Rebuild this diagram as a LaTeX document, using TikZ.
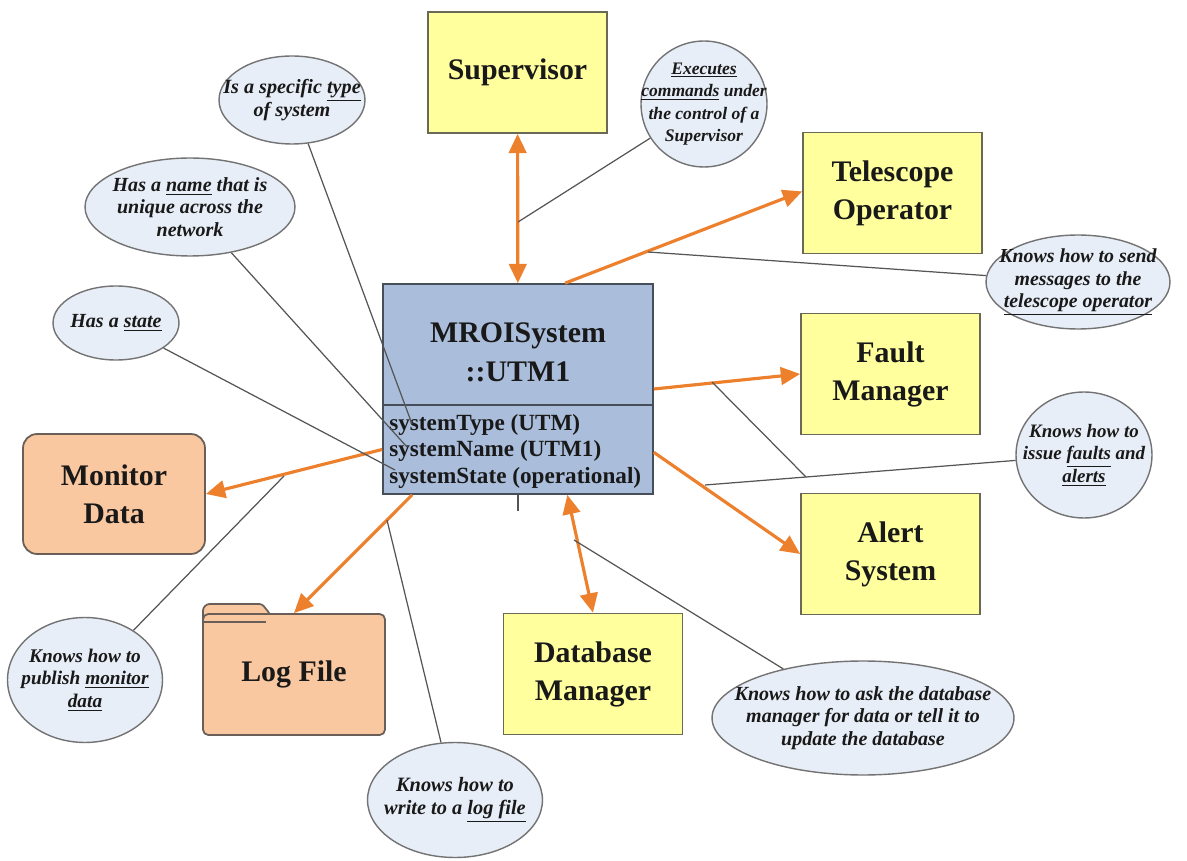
\documentclass[tikz,border=0pt]{standalone}
\usepackage{fontspec}
\setmainfont{Liberation Serif}
\usetikzlibrary{arrows.meta,shapes.geometric}
\definecolor{boxyellow}{RGB}{255,255,158}
\definecolor{yborder}{RGB}{105,105,85}
\definecolor{sysfill}{RGB}{170,190,220}
\definecolor{sysborder}{RGB}{70,78,90}
\definecolor{peach}{RGB}{250,200,160}
\definecolor{pborder}{RGB}{105,95,88}
\definecolor{ellfill}{RGB}{232,238,247}
\definecolor{ellborder}{RGB}{115,115,115}
\definecolor{orangec}{RGB}{237,128,45}
\definecolor{linegray}{RGB}{85,85,85}
\definecolor{txt}{RGB}{25,25,25}
\newcommand\mycallout[6]{%
  \node[callout, minimum width=#3, minimum height=#4] (#1) at (#2) {};
  \node[ctext, font=\bfseries\itshape\fontsize{#5}{12.8}\selectfont] (#1t) at (#2) {#6};}
\begin{document}
\begin{tikzpicture}[x=0.02cm, y=-0.02cm,
  ybox/.style={draw=yborder, fill=boxyellow, line width=1pt, minimum width=3.58cm, minimum height=2.42cm, align=center, inner sep=0pt, text=txt, font=\bfseries\fontsize{17}{21.6}\selectfont},
  pbox/.style={draw=pborder, fill=peach, line width=1pt, minimum width=3.64cm, minimum height=2.4cm, align=center, inner sep=0pt, text=txt, font=\bfseries\fontsize{17}{21.6}\selectfont},
  callout/.style={ellipse, draw=ellborder, fill=ellfill, line width=0.8pt, inner sep=0pt},
  ctext/.style={align=center, inner sep=0pt, text=txt},
  oarrow/.style={draw=orangec, line width=1.8pt, -{Triangle[length=11pt,width=10pt]}},
  barrow/.style={draw=orangec, line width=1.8pt, {Triangle[length=11pt,width=10pt]}-{Triangle[length=11pt,width=10pt]}},
  gline/.style={draw=linegray, line width=0.7pt}]
\useasboundingbox (0,0) rectangle (1187,861);

% boxes
\node[ybox] (sup) at (517.5,72.5) {Supervisor};
\node[ybox] (tel) at (892.5,193) {Telescope\\Operator};
\node[ybox] (fault) at (890.5,374) {Fault\\Manager};
\node[ybox] (alert) at (890.5,554) {Alert\\System};
\node[ybox] (db) at (593,674) {Database\\Manager};
\node[pbox, rounded corners=8pt] (mon) at (114,494) {Monitor\\Data};

% log file (folder)
\filldraw[draw=pborder, fill=peach, line width=1pt, rounded corners=1.5pt] (203,622) -- (203,608) -- (207,604) -- (262,604) -- (270,614) -- (270,622);
\node[pbox, minimum height=2.42cm, rounded corners=3pt] (log) at (294,674.5) {Log File};
\draw[draw=pborder, line width=1pt] (203,622) -- (266,622);

% central system box
\node[draw=sysborder, fill=sysfill, line width=1pt, minimum width=5.4cm, minimum height=4.2cm, inner sep=0pt] (sys) at (518,389) {};
\draw[draw=sysborder, line width=1pt] (sys.west |- 0,405) -- (sys.east |- 0,405);
\node[align=center, inner sep=0pt, text=txt, font=\bfseries\fontsize{17}{22.2}\selectfont] (systitle) at (518,352) {MROISystem\\::UTM1};
\node[anchor=west, align=left, inner sep=0pt, text=txt, font=\bfseries\fontsize{13.2}{15.1}\selectfont] (sysattr) at (389,451) {systemType (UTM)\\systemName (UTM1)\\systemState (operational)};

% callouts
\mycallout{etype}{292,100}{2.92cm}{1.76cm}{11.5}{Is a specific \underline{type}\\of system}
\mycallout{ename}{190,207}{4.2cm}{1.96cm}{11.4}{Has a \underline{name} that is\\unique across the\\network}
\mycallout{estate}{116,323}{2.52cm}{1.48cm}{11.4}{Has a \underline{state}}
\mycallout{esup}{704,104}{2.52cm}{2.52cm}{10}{\underline{Executes}\\\underline{commands} under\\the control of a\\Supervisor}
\mycallout{etel}{1078,282}{3.68cm}{1.88cm}{11.3}{Knows how to send\\messages to the\\\underline{telescope operator}}
\mycallout{efa}{1084,455}{2.72cm}{2.52cm}{10.8}{Knows how to\\issue \underline{faults} and\\\underline{alerts}}
\mycallout{emon}{85,680}{3.1cm}{2.5cm}{11}{Knows how to\\publish \underline{monitor}\\\underline{data}}
\mycallout{elog}{455,800}{3.5cm}{2.3cm}{11.6}{Knows how to\\write to a \underline{log file}}
\mycallout{edb}{863,718}{6.04cm}{2.28cm}{11.4}{Knows how to ask the database\\manager for data or tell it to\\update the database}

% orange arrows
\draw[barrow] (sup) -- (sys);
\draw[oarrow] (sys.66.8) -- (tel.179);
\draw[oarrow] (sys.east) -- (fault.west);
\draw[oarrow] (sys.-25) -- (alert.west);
\draw[oarrow] (sys.204.3) -- (mon.east);
\draw[oarrow] (sys.225) -- (log.north);
\draw[barrow] (sys.-65.9) -- (db.north);

% coordinates for callout lines
\coordinate (ctype) at (412,424);
\coordinate (cname) at (407,447);
\coordinate (cstate) at (395,470);
\coordinate (csup) at (518,222);
\coordinate (ctel) at (648,252);
\coordinate (cfault) at (712,382);
\coordinate (cjoin) at (806,477);
\coordinate (calert) at (705,485);
\coordinate (cmon) at (284,476);
\coordinate (clog) at (387,520);
\coordinate (cdb) at (574,540);
\coordinate (ctick) at (518,511);

% gray callout lines
\draw[gline] (etype) -- (ctype);
\draw[gline] (ename) -- (cname);
\draw[gline] (estate) -- (cstate);
\draw[gline] (esup) -- (csup);
\draw[gline] (etel) -- (ctel);
\draw[gline] (efa) -- (calert);
\draw[gline] (cfault) -- (cjoin);
\draw[gline] (emon) -- (cmon);
\draw[gline] (elog) -- (clog);
\draw[gline] (edb) -- (cdb);
\draw[gline, line width=1pt] (sys.south) -- (ctick);
\end{tikzpicture}
\end{document}
